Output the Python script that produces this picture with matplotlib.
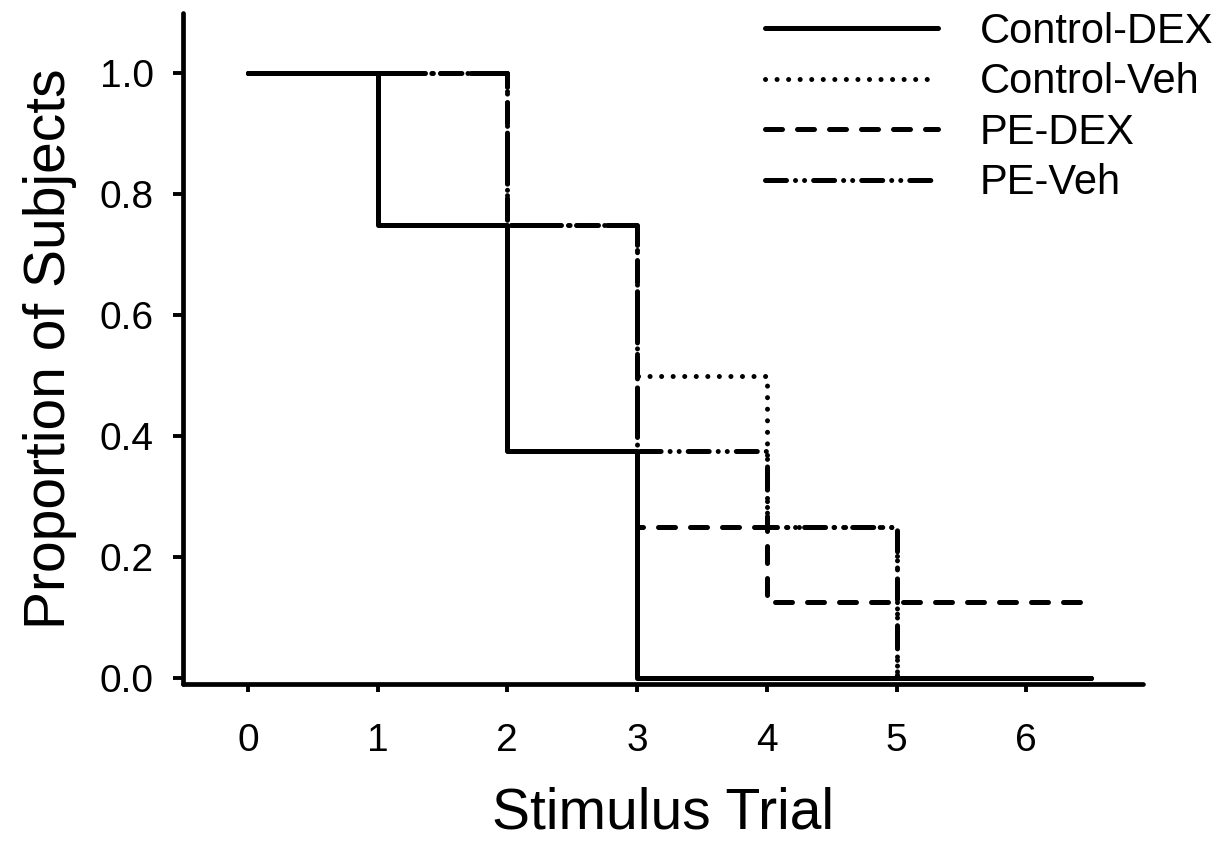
import matplotlib.pyplot as plt

plt.rcParams['font.family'] = ['Liberation Sans', 'DejaVu Sans']

# survival-style step data (value holds until the next trial)
trials = [0, 1, 2, 3, 4, 5, 6.5]
control_dex = [1.0, 0.75, 0.375, 0.0, 0.0, 0.0, 0.0]
control_veh = [1.0, 1.0, 0.75, 0.5, 0.25, 0.0, 0.0]
pe_dex = [1.0, 1.0, 0.75, 0.25, 0.125, 0.125, 0.125]
pe_veh = [1.0, 1.0, 0.75, 0.375, 0.25, 0.0, 0.0]

labels = ['Control-DEX', 'Control-Veh', 'PE-DEX', 'PE-Veh']
styles = [
    (0, ()),
    (0, (0.01, 2.3)),
    (0, (3.4, 3.0)),
    (0, (4.2, 1.8, 0.01, 1.8, 0.01, 1.8)),
]

if __name__ == "__main__":
    fig = plt.figure(figsize=(12.25, 8.48), dpi=100)
    ax = fig.add_axes([183 / 1225, 1 - 684 / 848, (1143 - 183) / 1225, (684 - 13) / 848])

    for ys, lab, ls in zip([control_dex, control_veh, pe_dex, pe_veh], labels, styles):
        ax.step(trials, ys, where='post', color='black', lw=3.6, linestyle=ls,
                dash_capstyle='round', solid_capstyle='round', label=lab)

    ax.set_xlim(-0.5, 6.9)
    ax.set_ylim(-0.01, 1.1)
    ax.set_xticks(range(7))
    ax.set_yticks([0.0, 0.2, 0.4, 0.6, 0.8, 1.0])
    ax.set_yticklabels(['0.0', '0.2', '0.4', '0.6', '0.8', '1.0'])

    for side in ['top', 'right']:
        ax.spines[side].set_visible(False)
    for side in ['left', 'bottom']:
        ax.spines[side].set_linewidth(3.4)
        ax.spines[side].set_capstyle('round')
    ax.tick_params(axis='x', direction='out', length=6, width=2.8, pad=22, labelsize=28)
    ax.tick_params(axis='y', direction='out', length=7, width=2.8, pad=14, labelsize=28)

    ax.set_xlabel('Stimulus Trial', fontsize=41, labelpad=20)
    ax.set_ylabel('Proportion of Subjects', fontsize=41, labelpad=16)

    ax.legend(loc='upper right', bbox_to_anchor=(1213 / 1225, 1 - 12 / 848),
              bbox_transform=fig.transFigure, frameon=False, fontsize=30,
              borderpad=0, borderaxespad=0, handlelength=4.15, handletextpad=1.0,
              labelspacing=0.25)

    fig.savefig('out.png', dpi=100)
